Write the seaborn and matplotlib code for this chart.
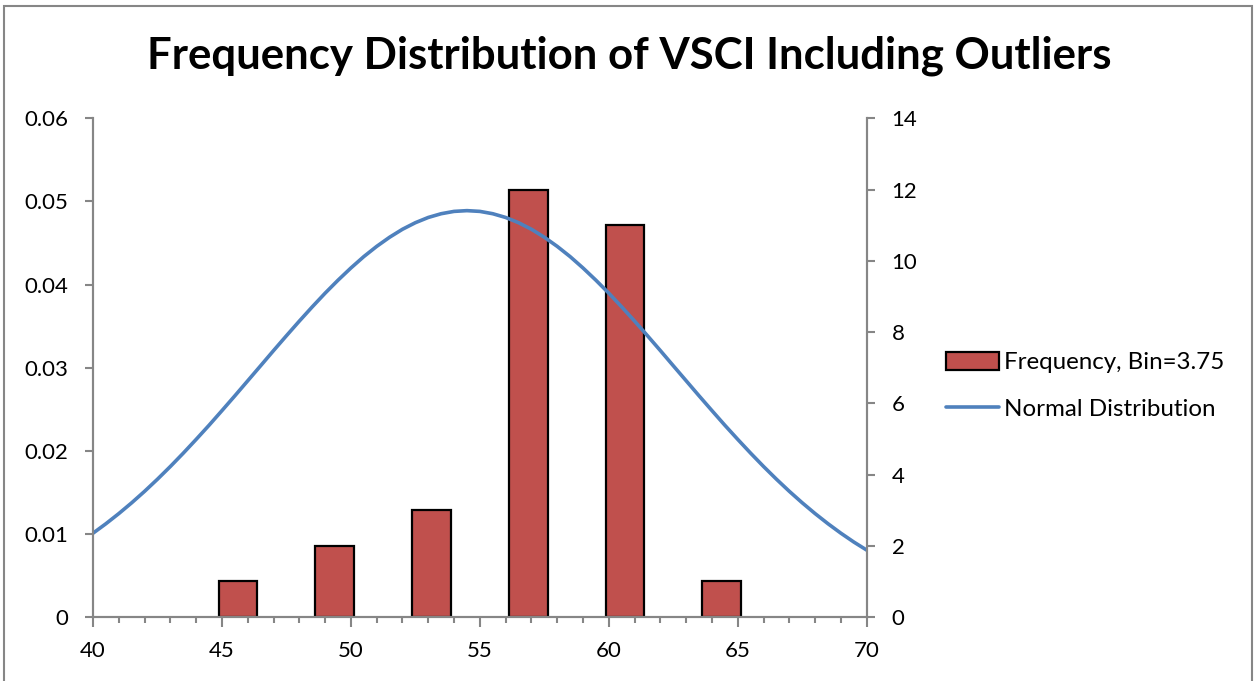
import numpy as np
import pandas as pd
import matplotlib.pyplot as plt
import seaborn as sns
from matplotlib.ticker import MultipleLocator
from matplotlib.patches import Patch, Rectangle
from matplotlib.lines import Line2D

# bars: bin centres (bin = 3.75) and counts, right axis
bin_centers = [45.625, 49.375, 53.125, 56.875, 60.625, 64.375]
counts = [1, 2, 3, 12, 11, 1]

# normal curve every 0.5, left axis
curve_x = list(np.arange(40, 70.5, 0.5))
curve_y = [0.01008, 0.01122, 0.01244, 0.01374, 0.01512, 0.01658, 0.01811, 0.01971,
           0.02137, 0.02307, 0.02483, 0.02661, 0.02842, 0.03023, 0.03205, 0.03384,
           0.03560, 0.03731, 0.03896, 0.04052, 0.04199, 0.04336, 0.04459, 0.04569,
           0.04665, 0.04744, 0.04807, 0.04852, 0.04880, 0.04889, 0.04880, 0.04852,
           0.04807, 0.04744, 0.04665, 0.04569, 0.04459, 0.04336, 0.04199, 0.04052,
           0.03896, 0.03731, 0.03560, 0.03384, 0.03205, 0.03023, 0.02842, 0.02661,
           0.02483, 0.02307, 0.02137, 0.01971, 0.01811, 0.01658, 0.01512, 0.01374,
           0.01244, 0.01122, 0.01008, 0.00902, 0.00805]

left_ticks = [0, 0.01, 0.02, 0.03, 0.04, 0.05, 0.06]
left_labels = ["0", "0.01", "0.02", "0.03", "0.04", "0.05", "0.06"]
right_ticks = [0, 2, 4, 6, 8, 10, 12, 14]
x_ticks = [40, 45, 50, 55, 60, 65, 70]

title = "Frequency Distribution of VSCI Including Outliers"
bar_label = "Frequency, Bin=3.75"
line_label = "Normal Distribution"

bar_color = "#C0504D"
line_color = "#4F81BD"
axis_gray = "#868686"

sns.set_style("white")
plt.rcParams['font.family'] = ['Lato', 'DejaVu Sans']
plt.rcParams['text.color'] = 'black'
plt.rcParams['xtick.labelcolor'] = 'black'
plt.rcParams['ytick.labelcolor'] = 'black'

fig = plt.figure(figsize=(12.59, 6.81), dpi=100)
ax = fig.add_axes([93 / 1259, 1 - 617 / 681, (866.7 - 93) / 1259, (617 - 118.3) / 681])
ax2 = ax.twinx()

df_bars = pd.DataFrame({"bin": bin_centers, "count": counts})
sns.barplot(data=df_bars, x="bin", y="count", native_scale=True, width=0.4,
            color=bar_color, saturation=1, edgecolor="black", linewidth=1.6, ax=ax)

df_curve = pd.DataFrame({"x": curve_x, "y": curve_y})
sns.lineplot(data=df_curve, x="x", y="y", color=line_color, linewidth=2.6, ax=ax2)

# bars axis -> right side, curve axis -> left side
ax.yaxis.tick_right()
ax.yaxis.set_label_position("right")
ax2.yaxis.tick_left()
ax2.yaxis.set_label_position("left")

ax.set_xlim(40, 70)
ax.set_ylim(0, 14)
ax2.set_ylim(0, 0.06)
ax.set_xticks(x_ticks)
ax.set_xticklabels([str(t) for t in x_ticks])
ax.xaxis.set_minor_locator(MultipleLocator(1))
ax.set_yticks(right_ticks)
ax.set_yticklabels([str(t) for t in right_ticks])
ax2.set_yticks(left_ticks)
ax2.set_yticklabels(left_labels)

for a in (ax, ax2):
    a.set_xlabel("")
    a.set_ylabel("")
    a.spines["top"].set_visible(False)
    for s in ("left", "right", "bottom"):
        a.spines[s].set_color(axis_gray)
        a.spines[s].set_linewidth(1.5)

ax.tick_params(axis="x", which="major", direction="out", length=7, width=1.5,
               color=axis_gray, labelcolor="black", labelsize=16, pad=10, bottom=True)
ax.tick_params(axis="x", which="minor", direction="out", length=4, width=1.5,
               color=axis_gray, bottom=True)
ax.tick_params(axis="y", direction="out", length=6, width=1.5, color=axis_gray,
               labelcolor="black", labelsize=16, pad=12, right=True, left=False)
ax2.tick_params(axis="y", direction="out", length=6, width=1.5, color=axis_gray,
                labelcolor="black", labelsize=16, pad=12, left=True, right=False)

fig.text(0.4996, 1 - 68 / 681, title, ha="center", va="baseline",
         fontsize=31.5, fontweight="bold", color="black")

handles = [Patch(facecolor=bar_color, edgecolor="black", linewidth=1.6),
           Line2D([0], [0], color=line_color, linewidth=2.6)]
fig.legend(handles, [bar_label, line_label], loc="center left",
           bbox_to_anchor=(946 / 1259, 1 - 386 / 681), frameon=False,
           fontsize=17.4, handlelength=2.2, handleheight=0.75, handletextpad=0.2,
           labelspacing=1.05, borderpad=0, borderaxespad=0, labelcolor="black")

fig.add_artist(Rectangle((4 / 1259, -0.1), (1252 - 4) / 1259, 1.1 - 6 / 681,
                         transform=fig.transFigure, fill=False,
                         edgecolor=axis_gray, linewidth=1.5))

fig.savefig("out.png", dpi=100)
